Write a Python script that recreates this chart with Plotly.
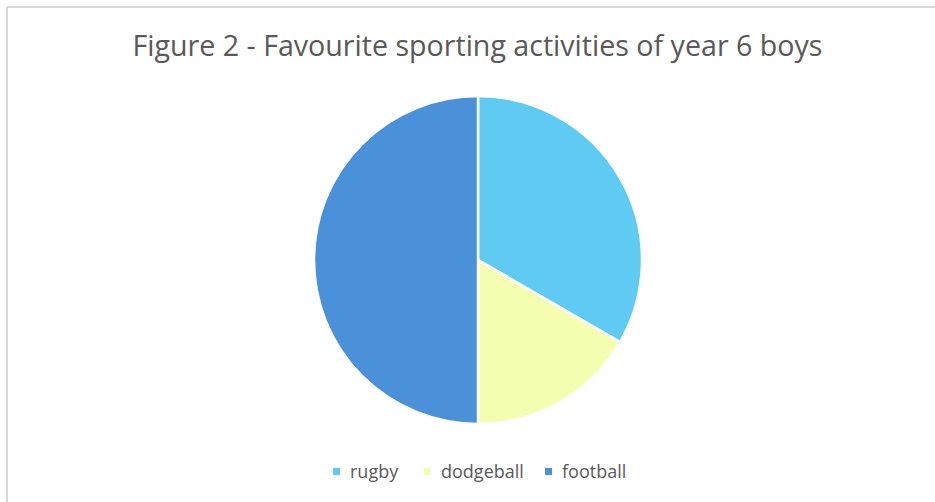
import plotly.graph_objects as go

# Favourite sporting activities (counts of pupils)
sports = ["rugby", "dodgeball", "football"]
counts = [4, 2, 6]
slice_colors = ["#5FCBF3", "#F5FDB1", "#4A91DA"]

W, H = 935, 502
cx, cy, r = 478, 260, 164

fig = go.Figure(
    go.Pie(
        labels=sports,
        values=counts,
        sort=False,
        direction="clockwise",
        rotation=0,
        textinfo="none",
        hoverinfo="label+value+percent",
        marker=dict(colors=slice_colors, line=dict(color="white", width=2.5)),
        domain=dict(
            x=[(cx - r) / W, (cx + r) / W],
            y=[(H - cy - r) / H, (H - cy + r) / H],
        ),
        showlegend=False,
    )
)

font_family = "'Open Sans', 'Noto Sans', sans-serif"
text_color = "#595959"

# Legend drawn as small coloured squares with labels along the bottom
legend_marker_x = [336.5, 427.5, 548.5]  # pixel centres of the swatches
legend_y = 471.5
swatch = 7
shapes = []
annotations = []
for name, color, mx in zip(sports, slice_colors, legend_marker_x):
    shapes.append(dict(
        type="rect", xref="paper", yref="paper",
        x0=(mx - swatch / 2) / W, x1=(mx + swatch / 2) / W,
        y0=1 - (legend_y + swatch / 2) / H, y1=1 - (legend_y - swatch / 2) / H,
        fillcolor=color, line=dict(width=0),
    ))
    annotations.append(dict(
        text=name, xref="paper", yref="paper",
        x=(mx + swatch / 2 + 8) / W, xanchor="left",
        y=1 - (legend_y - 1) / H, yanchor="middle",
        showarrow=False,
        font=dict(family=font_family, size=18, color=text_color),
    ))

# Chart-area frame (top and left edges)
shapes += [
    dict(type="line", xref="paper", yref="paper",
         x0=7 / W, x1=1.05, y0=1 - 7 / H, y1=1 - 7 / H,
         line=dict(color="#D9D9D9", width=2)),
    dict(type="line", xref="paper", yref="paper",
         x0=7 / W, x1=7 / W, y0=1 - 7 / H, y1=-0.05,
         line=dict(color="#D9D9D9", width=2)),
]

fig.update_layout(
    width=W,
    height=H,
    margin=dict(l=0, r=0, t=0, b=0),
    paper_bgcolor="white",
    plot_bgcolor="white",
    showlegend=False,
    title=dict(
        text="Figure 2 - Favourite sporting activities of year 6 boys",
        x=477.5 / W,
        xanchor="center",
        y=1 - 46 / H,
        yanchor="middle",
        font=dict(family=font_family, size=28.6, color=text_color),
    ),
    shapes=shapes,
    annotations=annotations,
)

fig.write_html("out.html")
